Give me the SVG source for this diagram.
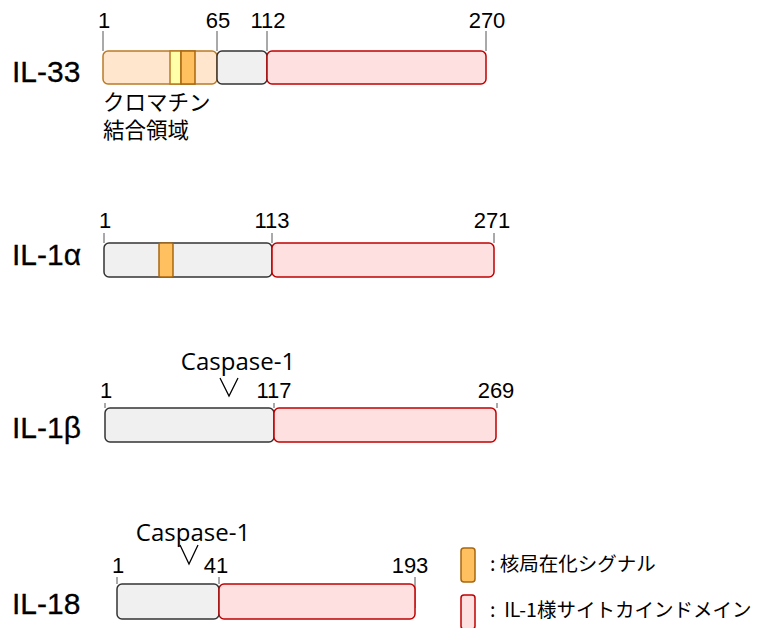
<svg xmlns="http://www.w3.org/2000/svg" width="758" height="628" viewBox="0 0 758 628">
<style>
.lbl{font-family:"Liberation Sans",Arial,sans-serif;font-size:30px;fill:#000;stroke:#000;stroke-width:0.3}
.num{font-family:"Liberation Sans",Arial,sans-serif;font-size:22px;fill:#000;text-anchor:middle}
.jp{font-family:"Noto Sans CJK JP","Liberation Sans",sans-serif;font-size:21.5px;fill:#000}
.leg{font-family:"Noto Sans CJK JP","Liberation Sans",sans-serif;font-size:19.5px;fill:#000}
.cas{font-family:"Open Sans","Liberation Sans",sans-serif;font-size:24px;fill:#000;text-anchor:middle}
.tick{stroke:#555;stroke-width:1;fill:none}
.grey{fill:#F0F0F0;stroke:#333;stroke-width:1.5}
.red{fill:#FFE0E0;stroke:#C00000;stroke-width:1.5}
.pale{fill:#FFE6CC;stroke:#B97B25;stroke-width:1.5}
.nls{fill:#FFC060;stroke:#A8670F;stroke-width:1.5}
.yel{fill:#FFFFAA;stroke:#B97B25;stroke-width:1.5}
.arr{stroke:#000;stroke-width:1.3;fill:none}
</style>

<g id="il33">
  <text class="lbl" x="12" y="82">IL-33</text>
  <line class="tick" x1="103" y1="31" x2="103" y2="51"/>
  <line class="tick" x1="217" y1="31" x2="217" y2="51"/>
  <line class="tick" x1="267" y1="31" x2="267" y2="51"/>
  <line class="tick" x1="486" y1="31" x2="486" y2="51"/>
  <text class="num" x="104" y="28">1</text>
  <text class="num" x="218" y="28">65</text>
  <text class="num" x="268" y="28">112</text>
  <text class="num" x="487" y="28">270</text>
  <rect class="pale" x="103" y="51" width="114" height="33" rx="5"/>
  <rect class="yel" x="170" y="51" width="11" height="33"/>
  <rect class="nls" x="181" y="51" width="14" height="33"/>
  <rect class="grey" x="217" y="51" width="50" height="33" rx="5"/>
  <rect class="red" x="267" y="51" width="219" height="33" rx="5"/>
  <text class="jp" x="103" y="110">クロマチン</text>
  <text class="jp" x="103" y="138">結合領域</text>
</g>

<g id="il1a">
  <text class="lbl" x="12" y="265">IL-1α</text>
  <line class="tick" x1="104" y1="233" x2="104" y2="243"/>
  <line class="tick" x1="272" y1="233" x2="272" y2="243"/>
  <line class="tick" x1="494" y1="233" x2="494" y2="243"/>
  <text class="num" x="105" y="228">1</text>
  <text class="num" x="272" y="228">113</text>
  <text class="num" x="492" y="228">271</text>
  <rect class="grey" x="104" y="243" width="168" height="34" rx="5"/>
  <rect class="nls" x="159" y="243" width="14" height="34" rx="1.5"/>
  <rect class="red" x="272" y="243" width="222" height="34" rx="5"/>
</g>

<g id="il1b">
  <text class="lbl" x="12" y="438">IL-1β</text>
  <line class="tick" x1="105" y1="403" x2="105" y2="408"/>
  <line class="tick" x1="274" y1="403" x2="274" y2="408"/>
  <line class="tick" x1="497" y1="403" x2="497" y2="408"/>
  <text class="num" x="106" y="398">1</text>
  <text class="num" x="274" y="398">117</text>
  <text class="num" x="496" y="398">269</text>
  <rect class="grey" x="105" y="408" width="169" height="34" rx="5"/>
  <rect class="red" x="274" y="408" width="222" height="34" rx="5"/>
  <text class="cas" x="238" y="370">Caspase-1</text>
  <polyline class="arr" points="220,378 229,396 238,378"/>
</g>

<g id="il18">
  <text class="lbl" x="12" y="614">IL-18</text>
  <line class="tick" x1="117" y1="577" x2="117" y2="584"/>
  <line class="tick" x1="219" y1="577" x2="219" y2="584"/>
  <line class="tick" x1="415" y1="577" x2="415" y2="608"/>
  <text class="num" x="118" y="573">1</text>
  <text class="num" x="216" y="573">41</text>
  <text class="num" x="410" y="573">193</text>
  <rect class="grey" x="117" y="584" width="102" height="35" rx="5"/>
  <rect class="red" x="219" y="584" width="196" height="35" rx="5"/>
  <text class="cas" x="193" y="541">Caspase-1</text>
  <polyline class="arr" points="180,545 189,564 198,545"/>
</g>

<g id="legend">
  <rect class="nls" x="461" y="548" width="14" height="34" rx="3"/>
  <text class="leg" x="490" y="571">: 核局在化シグナル</text>
  <rect class="red" x="461" y="595" width="14" height="34" rx="3"/>
  <text class="leg" x="490" y="617" xml:space="preserve">:  IL-1様サイトカインドメイン</text>
</g>
<g id="connectors"></g>
</svg>
